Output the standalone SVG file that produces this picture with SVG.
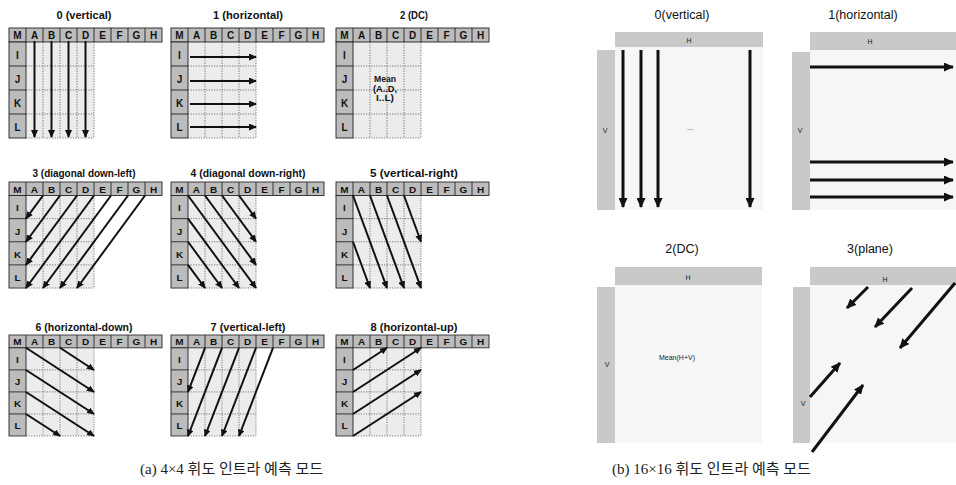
<svg xmlns="http://www.w3.org/2000/svg" width="956" height="485" viewBox="0 0 956 485">
<style>
.hd{fill:#bcbcbc;stroke:#222;stroke-width:0.9}
.ln{stroke:#222;stroke-width:0.9;fill:none}
.in{fill:#ececec}
.dot{stroke:#555;stroke-width:0.8;stroke-dasharray:1.2 1.4;fill:none}
.lb{font-family:'Liberation Sans',Arial,sans-serif;font-weight:bold;font-size:10px;text-anchor:middle;fill:#111}
.tt{font-family:'Liberation Sans',Arial,sans-serif;font-weight:bold;font-size:11px;text-anchor:middle;fill:#111}
.mn{font-family:'Liberation Sans',Arial,sans-serif;font-weight:bold;font-size:9px;text-anchor:middle;fill:#111}
.a{stroke:#111;stroke-width:2;fill:none;marker-end:url(#ah)}
.bt{font-family:'Liberation Sans',Arial,sans-serif;font-size:12.5px;text-anchor:middle;fill:#111}
.bar{fill:#c9c9c9}
.bin{fill:#f6f6f6}
.sm{font-family:'Liberation Sans',Arial,sans-serif;font-size:7px;text-anchor:middle;fill:#222}
.ba{stroke:#111;stroke-width:3;fill:none;marker-end:url(#bh)}
.cap{font-family:'Liberation Serif','Noto Sans CJK KR',serif;font-size:15px;fill:#222}
</style>
<defs>
<marker id="ah" markerUnits="userSpaceOnUse" markerWidth="8" markerHeight="7" refX="7" refY="3.5" orient="auto"><path d="M0,0 L8,3.5 L0,7 z" fill="#111"/></marker>
<marker id="bh" markerUnits="userSpaceOnUse" markerWidth="10" markerHeight="9" refX="9" refY="4.5" orient="auto"><path d="M0,0 L10,4.5 L0,9 z" fill="#111"/></marker>
<g id="grid">
<rect class="in" x="17" y="14" width="68" height="96"/>
<path class="dot" d="M34,14V110M51,14V110M68,14V110M85,14V110M17,38H85M17,62H85M17,86H85M17,110H85"/>
<rect class="hd" x="0" y="0" width="153" height="14"/>
<path class="ln" d="M17,0V14M34,0V14M51,0V14M68,0V14M85,0V14M102,0V14M119,0V14M136,0V14"/>
<rect class="hd" x="0" y="14" width="17" height="96"/>
<path class="ln" d="M0,38H17M0,62H17M0,86H17"/>
<text class="lb" x="8.5" y="11">M</text><text class="lb" x="25.5" y="11">A</text><text class="lb" x="42.5" y="11">B</text><text class="lb" x="59.5" y="11">C</text><text class="lb" x="76.5" y="11">D</text><text class="lb" x="93.5" y="11">E</text><text class="lb" x="110.5" y="11">F</text><text class="lb" x="127.5" y="11">G</text><text class="lb" x="144.5" y="11">H</text>
<text class="lb" x="8.5" y="30.5">I</text><text class="lb" x="8.5" y="54.5">J</text><text class="lb" x="8.5" y="78.5">K</text><text class="lb" x="8.5" y="102.5">L</text>
</g>
</defs>
<rect width="956" height="485" fill="#fff"/>

<g id="mode0"><text class="tt" x="84" y="19" textLength="55" lengthAdjust="spacingAndGlyphs">0 (vertical)</text><use href="#grid" transform="translate(9,28)"/></g>
<g id="mode1"><text class="tt" x="248" y="19" textLength="70" lengthAdjust="spacingAndGlyphs">1 (horizontal)</text><use href="#grid" transform="translate(171,28)"/></g>
<g id="mode2"><text class="tt" x="414" y="19" textLength="28" lengthAdjust="spacingAndGlyphs">2 (DC)</text><use href="#grid" transform="translate(336,28)"/>
<g transform="translate(336,28)"><text class="mn" x="49" y="53.5" textLength="22" lengthAdjust="spacingAndGlyphs">Mean</text><text class="mn" x="49" y="63.5" textLength="24" lengthAdjust="spacingAndGlyphs">(A..D,</text><text class="mn" x="49" y="73" textLength="18" lengthAdjust="spacingAndGlyphs">I..L)</text></g></g>
<g id="mode3"><text class="tt" x="84" y="177" textLength="103" lengthAdjust="spacingAndGlyphs">3 (diagonal down-left)</text><use href="#grid" transform="translate(9,182) scale(1,0.964)"/></g>
<g id="mode4"><text class="tt" x="248" y="177" textLength="115" lengthAdjust="spacingAndGlyphs">4 (diagonal down-right)</text><use href="#grid" transform="translate(171,182) scale(1,0.964)"/></g>
<g id="mode5"><text class="tt" x="414" y="177" textLength="88" lengthAdjust="spacingAndGlyphs">5 (vertical-right)</text><use href="#grid" transform="translate(336,182) scale(1,0.964)"/></g>
<g id="mode6"><text class="tt" x="84" y="331" textLength="97" lengthAdjust="spacingAndGlyphs">6 (horizontal-down)</text><use href="#grid" transform="translate(9,335) scale(1,0.918)"/></g>
<g id="mode7"><text class="tt" x="248" y="331" textLength="75" lengthAdjust="spacingAndGlyphs">7 (vertical-left)</text><use href="#grid" transform="translate(171,335) scale(1,0.918)"/></g>
<g id="mode8"><text class="tt" x="414" y="331" textLength="87" lengthAdjust="spacingAndGlyphs">8 (horizontal-up)</text><use href="#grid" transform="translate(336,335) scale(1,0.918)"/></g>

<g id="b0"><text class="bt" x="682" y="19">0(vertical)</text>
<rect class="bin" x="615" y="47" width="148" height="163"/>
<rect class="bar" x="615" y="32" width="148" height="15"/><rect class="bar" x="597" y="50" width="18" height="160"/>
<text class="sm" x="689" y="43">H</text><text class="sm" x="605" y="133">V</text><text class="sm" x="690" y="130">...</text></g>
<g id="b1"><text class="bt" x="863" y="19">1(horizontal)</text>
<rect class="bin" x="810" y="50" width="146" height="160"/>
<rect class="bar" x="810" y="32" width="146" height="18"/><rect class="bar" x="792" y="52" width="18" height="158"/>
<text class="sm" x="870" y="44">H</text><text class="sm" x="800" y="133">V</text></g>
<g id="b2"><text class="bt" x="682" y="253">2(DC)</text>
<rect class="bin" x="615" y="285" width="147" height="158"/>
<rect class="bar" x="615" y="267" width="147" height="18"/><rect class="bar" x="597" y="287" width="18" height="156"/>
<text class="sm" x="688" y="280">H</text><text class="sm" x="607" y="367">V</text><text class="sm" x="677" y="360">Mean(H+V)</text></g>
<g id="b3"><text class="bt" x="870" y="253">3(plane)</text>
<rect class="bin" x="810" y="285" width="146" height="158"/>
<rect class="bar" x="810" y="267" width="146" height="18"/><rect class="bar" x="793" y="287" width="17" height="156"/>
<text class="sm" x="885" y="282">H</text><text class="sm" x="803" y="406">V</text></g>

<g id="connectors">
<g transform="translate(9,28)"><path class="a" d="M25.5,13V109"/><path class="a" d="M42.5,13V109"/><path class="a" d="M59.5,13V109"/><path class="a" d="M76.5,13V109"/></g>
<g transform="translate(171,28)"><path class="a" d="M19,29H85"/><path class="a" d="M19,53H85"/><path class="a" d="M19,76H85"/><path class="a" d="M19,99H85"/></g>
<g transform="translate(9,182) scale(1,0.964)"><path class="a" d="M34,14L17,38"/><path class="a" d="M51,14L17,62"/><path class="a" d="M68,14L17,86"/><path class="a" d="M85,14L17,110"/><path class="a" d="M102,14L34,110"/><path class="a" d="M119,14L51,110"/><path class="a" d="M136,14L68,110"/></g>
<g transform="translate(171,182) scale(1,0.964)"><path class="a" d="M17,14L85,110"/><path class="a" d="M34,14L85,86"/><path class="a" d="M51,14L85,62"/><path class="a" d="M68,14L85,38"/><path class="a" d="M17,38L68,110"/><path class="a" d="M17,62L51,110"/><path class="a" d="M17,86L34,110"/></g>
<g transform="translate(336,182) scale(1,0.964)"><path class="a" d="M68,14L85,62"/><path class="a" d="M51,14L85,110"/><path class="a" d="M34,14L68,110"/><path class="a" d="M17,14L51,110"/><path class="a" d="M17,62L34,110"/></g>
<g transform="translate(9,335) scale(1,0.918)"><path class="a" d="M17,14L85,62"/><path class="a" d="M51,14L85,38"/><path class="a" d="M17,38L85,86"/><path class="a" d="M17,62L85,110"/><path class="a" d="M17,86L51,110"/></g>
<g transform="translate(171,335) scale(1,0.918)"><path class="a" d="M34,14L17,62"/><path class="a" d="M51,14L17,110"/><path class="a" d="M68,14L34,110"/><path class="a" d="M85,14L51,110"/><path class="a" d="M102,14L68,110"/></g>
<g transform="translate(336,335) scale(1,0.918)"><path class="a" d="M17,38L51,14"/><path class="a" d="M17,62L85,14"/><path class="a" d="M17,86L85,38"/><path class="a" d="M17,110L85,62"/></g>
<path class="ba" d="M623,50V207"/><path class="ba" d="M641,50V207"/><path class="ba" d="M658,50V207"/><path class="ba" d="M750,50V207"/>
<path class="ba" d="M810,67H953"/><path class="ba" d="M810,162H953"/><path class="ba" d="M810,180H953"/><path class="ba" d="M810,197H953"/>
<path class="ba" d="M868,287L847,308"/><path class="ba" d="M912,288L875,327"/><path class="ba" d="M955,283L900,348"/><path class="ba" d="M810,397L840,363"/><path class="ba" d="M812,452L863,385"/>
</g>

<text class="cap" x="140" y="474">(a) 4×4 휘도 인트라 예측 모드</text>
<text class="cap" x="612" y="474">(b) 16×16 휘도 인트라 예측 모드</text>
</svg>
